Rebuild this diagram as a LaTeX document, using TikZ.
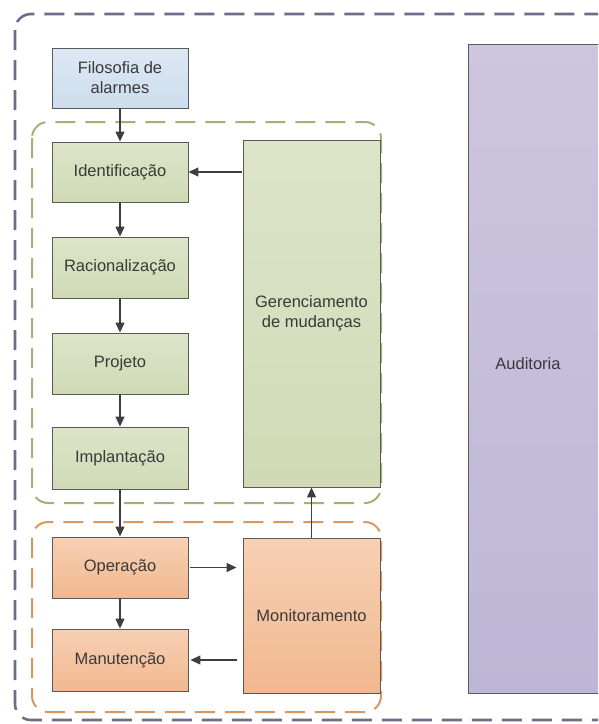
\documentclass[tikz,border=0pt]{standalone}
\usepackage{fontspec}
\setmainfont{Liberation Sans}
\usetikzlibrary{arrows.meta}
\definecolor{outerc}{HTML}{6E6C8A}
\definecolor{greenc}{HTML}{A2B276}
\definecolor{orangec}{HTML}{D9995E}
\definecolor{edgec}{HTML}{5A5A5A}
\definecolor{arrc}{HTML}{3F3F3F}
\definecolor{txtc}{HTML}{3A3A3A}
\tikzset{
  box/.style={draw=edgec, line width=0.9pt, minimum width=136pt, text=txtc,
    font=\fontsize{16.5}{20}\selectfont, align=center, inner sep=0pt},
  bluebox/.style={box, top color={rgb,255:red,221;green,232;blue,244}, bottom color={rgb,255:red,205;green,221;blue,237}},
  greenbox/.style={box, top color={rgb,255:red,221;green,228;blue,201}, bottom color={rgb,255:red,208;green,218;blue,182}},
  orangebox/.style={box, top color={rgb,255:red,248;green,208;blue,180}, bottom color={rgb,255:red,240;green,184;blue,143}},
  purplebox/.style={box, top color={rgb,255:red,206;green,198;blue,223}, bottom color={rgb,255:red,189;green,182;blue,214}},
  arr/.style={draw=arrc, line width=1.1pt, -{Triangle[length=10pt,width=9pt]}},
  grp/.style={dash pattern=on 20pt off 10pt, rounded corners=16pt},
}
\begin{document}
\begin{tikzpicture}[x=1pt,y=1pt]
\useasboundingbox (0,0) rectangle (598,-724);
\clip (0,0) rectangle (598,-724);
\fill[white] (0,0) rectangle (598,-724);
% outer group
\draw[grp, draw=outerc, line width=2.6pt] (15,-14) rectangle (612,-720);
% green group
\draw[grp, draw=greenc, line width=2pt] (32,-122) rectangle (381,-503);
% orange group
\draw[grp, draw=orangec, line width=2pt] (32,-522) rectangle (381,-712);

% nodes
\node[bluebox, minimum height=60pt] (fil) at (120,-78) {Filosofia de\\alarmes};
\node[greenbox, minimum height=60pt] (ide) at (120,-172) {Identificação};
\node[greenbox, minimum height=61pt] (rac) at (120,-267.5) {Racionalização};
\node[greenbox, minimum height=61pt] (pro) at (120,-363.5) {Projeto};
\node[greenbox, minimum height=62pt] (imp) at (120,-458) {Implantação};
\node[orangebox, minimum height=61pt] (ope) at (120,-567.5) {Operação};
\node[orangebox, minimum height=62pt] (man) at (120,-660) {Manutenção};
\node[greenbox, minimum width=137pt, minimum height=347pt] (ger) at (311.5,-313.5) {Gerenciamento\\de mudanças};
\node[orangebox, minimum width=137pt, minimum height=155pt] (mon) at (311.5,-615.5) {Monitoramento};
\node[purplebox, minimum width=160pt, minimum height=649pt] (aud) at (548,-368.5) {};
\node[text=txtc, font=\fontsize{16.5}{20}\selectfont] (audt) at (528,-364) {Auditoria};

% connectors
\draw[arr] (fil) -- (ide);
\draw[arr] (ide) -- (rac);
\draw[arr] (rac) -- (pro);
\draw[arr] (pro) -- (imp);
\draw[arr] (imp) -- (ope);
\draw[arr] (ope) -- (man);
\draw[arr, shorten <=1pt] (ger.west |- ide) -- (ide.east);
\draw[arr, shorten <=2pt, shorten >=6pt] (ope.east) -- (mon.west |- ope);
\draw[arr, shorten <=6pt, shorten >=2pt] (mon.west |- man) -- (man.east);
\draw[arr] (mon.north) -- (ger.south);
\end{tikzpicture}
\end{document}
